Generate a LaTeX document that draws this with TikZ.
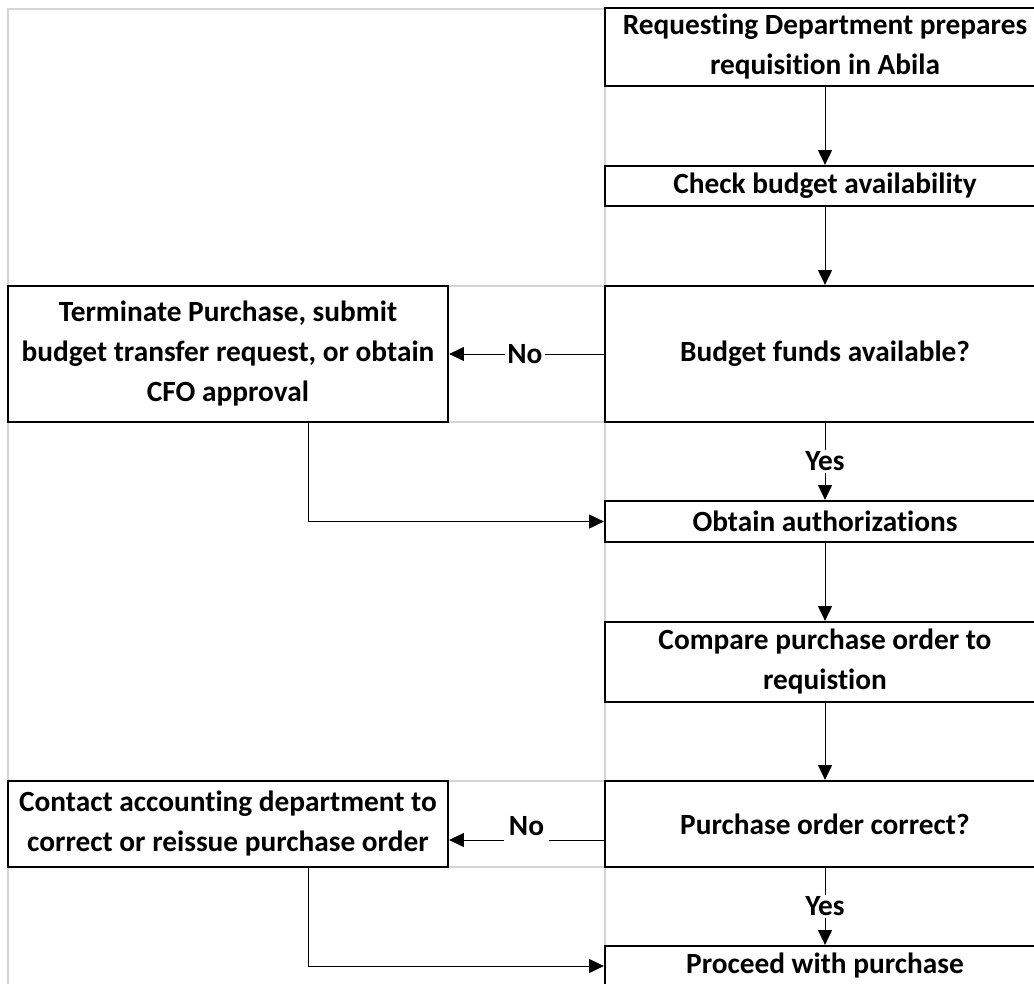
\documentclass[tikz,border=0pt]{standalone}
\usepackage{fontspec}
\setmainfont{Carlito}[Ligatures={NoCommon,NoRare}]
\usetikzlibrary{arrows.meta}
\begin{document}
\begin{tikzpicture}[x=0.75pt,y=-0.75pt,
  txt/.style={font=\fontsize{22}{30}\selectfont\bfseries},
  box/.style={txt,draw,line width=1.75pt,minimum width=330pt,inner sep=0pt,align=center},
  conn/.style={line width=0.75pt,-{Triangle[length=11pt,width=10.5pt]}},
  lbl/.style={txt,fill=white,inner sep=2pt},
  gridline/.style={draw=black!17,line width=1.5pt}]
\useasboundingbox (0,0) rectangle (1034,984);
\clip (0,0) rectangle (1034,984);
% sheet gridlines
\draw[gridline] (8,984) -- (8,9) -- (605,9);
\draw[gridline] (605,9) -- (605,984);
\foreach \yy in {286,422,781,867} \draw[gridline] (8,\yy) -- (605,\yy);
% right column
\node[box,minimum height=58.5pt] (b1) at (825,47) {Requesting Department prepares\\requisition in Abila};
\node[box,minimum height=30pt] (b2) at (825,186) {Check budget availability};
\node[box,minimum height=102pt] (b3) at (825,354) {Budget funds available?};
\node[box,minimum height=30.75pt] (b4) at (825,521.5) {Obtain authorizations};
\node[box,minimum height=60pt] (b5) at (825,662) {Compare purchase order to\\requistion};
\node[box,minimum height=64.5pt] (b6) at (825,824) {Purchase order correct?};
\node[box,minimum height=30pt] (b7) at (825,966) {Proceed with purchase};
% left column
\node[box,minimum height=102pt] (l1) at (228,354) {Terminate Purchase, submit\\budget transfer request, or obtain\\CFO approval};
\node[box,minimum height=64.5pt] (l2) at (228,824) {Contact accounting department to\\correct or reissue purchase order};
% connectors
\draw[conn] (b1) -- (b2);
\draw[conn] (b2) -- (b3);
\draw[conn] (b3.west) -- node[lbl,pos=0.51]{No} (l1.east);
\draw[conn] (b3) -- node[lbl,inner sep=1.5pt]{Yes} (b4);
\draw[conn] ([xshift=60pt]l1.south) |- (b4.west);
\draw[conn] (b4) -- (b5);
\draw[conn] (b5) -- (b6);
\draw[conn] ([yshift=-12pt]b6.west) -- node[lbl,pos=0.5,anchor=base,yshift=3.75pt,inner xsep=3.5pt,inner ysep=5pt]{No} ([yshift=-12pt]l2.east);
\draw[conn] (b6) -- node[lbl,inner sep=1.5pt]{Yes} (b7);
\draw[conn] ([xshift=60pt]l2.south) |- (b7.west);
\end{tikzpicture}
\end{document}
